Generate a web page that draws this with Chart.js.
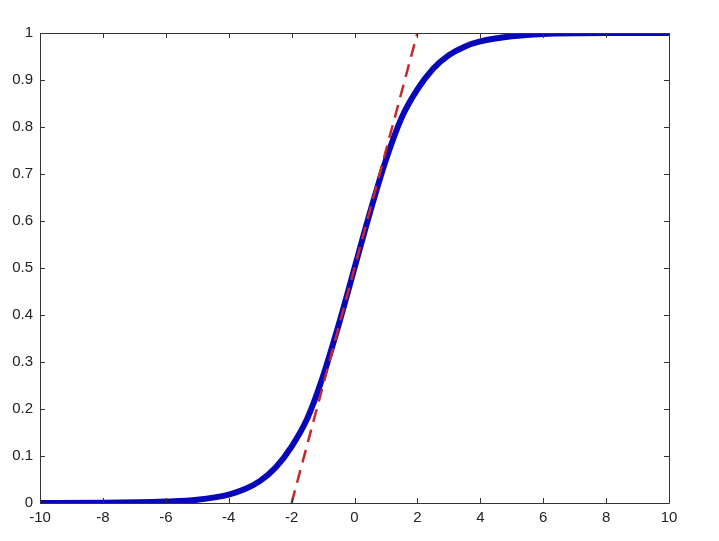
<!DOCTYPE html>
<html>
<head>
<meta charset="utf-8">
<script src="https://cdn.jsdelivr.net/npm/chart.js@4"></script>
<style>
  html, body { margin: 0; padding: 0; background: #fff; }
  #wrap { width: 719px; height: 541px; }
</style>
</head>
<body>
<div id="wrap"><canvas id="sigmoidChart" width="719" height="541"></canvas></div>
<script>
// values
const curveX = [-10, -8, -6, -5, -4, -3.5, -3, -2.5, -2, -1.5, -1, -0.5, 0, 0.5, 1, 1.5, 2, 2.5, 3, 3.5, 4, 5, 6, 8, 10];
const curveY = [0, 0.0003, 0.003, 0.007, 0.018, 0.029, 0.047, 0.076, 0.12, 0.18, 0.27, 0.38, 0.5, 0.62, 0.73, 0.82, 0.88, 0.924, 0.953, 0.971, 0.982, 0.993, 0.998, 1, 1];
const tangentX = [-2, 2];
const tangentY = [0, 1];
const xTicks = [-10, -8, -6, -4, -2, 0, 2, 4, 6, 8, 10];
const yTicks = [0, 0.1, 0.2, 0.3, 0.4, 0.5, 0.6, 0.7, 0.8, 0.9, 1];

const axisColor = '#333333';

// box round the plot with ticks pointing inward, like matlab
const boxPlugin = {
  id: 'box',
  afterDatasetsDraw(chart) {
    const ctx = chart.ctx;
    const a = chart.chartArea;
    const xs = chart.scales.x, ys = chart.scales.y;
    const len = 5;
    ctx.save();
    ctx.strokeStyle = axisColor;
    ctx.lineWidth = 1;
    ctx.beginPath();
    ctx.rect(a.left + 0.5, a.top + 0.5, a.right - a.left, a.bottom - a.top);
    xTicks.forEach(v => {
      const px = Math.round(xs.getPixelForValue(v)) + 0.5;
      ctx.moveTo(px, a.bottom); ctx.lineTo(px, a.bottom - len);
      ctx.moveTo(px, a.top); ctx.lineTo(px, a.top + len);
    });
    yTicks.forEach(v => {
      const py = Math.round(ys.getPixelForValue(v)) + 0.5;
      ctx.moveTo(a.left, py); ctx.lineTo(a.left + len, py);
      ctx.moveTo(a.right, py); ctx.lineTo(a.right - len, py);
    });
    ctx.stroke();
    ctx.restore();
  }
};

const ctx = document.getElementById('sigmoidChart').getContext('2d');
new Chart(ctx, {
  type: 'scatter',
  data: {
    datasets: [
      {
        label: 'sigmoid',
        data: curveX.map((x, i) => ({ x, y: curveY[i] })),
        showLine: true,
        borderColor: '#0808b8',
        borderWidth: 6,
        pointRadius: 0,
        cubicInterpolationMode: 'monotone',
        order: 2
      },
      {
        label: 'tangent',
        data: tangentX.map((x, i) => ({ x, y: tangentY[i] })),
        showLine: true,
        borderColor: '#c8282a',
        borderWidth: 2.5,
        borderDash: [13, 8],
        pointRadius: 0,
        order: 1
      }
    ]
  },
  options: {
    responsive: false,
    animation: false,
    layout: { padding: { top: 33, right: 50, left: 0, bottom: 0 } },
    plugins: {
      legend: { display: false },
      tooltip: { enabled: false }
    },
    scales: {
      x: {
        type: 'linear',
        min: -10,
        max: 10,
        afterBuildTicks: s => { s.ticks = xTicks.map(v => ({ value: v })); },
        afterFit: s => { s.height = 38; },
        grid: { drawOnChartArea: false, drawTicks: false },
        border: { display: false },
        ticks: {
          padding: 6,
          color: '#222',
          font: { family: 'Arial, "Liberation Sans", sans-serif', size: 15 },
          callback: v => String(v)
        }
      },
      y: {
        min: 0,
        max: 1,
        afterBuildTicks: s => { s.ticks = yTicks.map(v => ({ value: v })); },
        afterFit: s => { s.width = 40; },
        grid: { drawOnChartArea: false, drawTicks: false },
        border: { display: false },
        ticks: {
          padding: 7,
          color: '#222',
          font: { family: 'Arial, "Liberation Sans", sans-serif', size: 15 },
          callback: v => String(v)
        }
      }
    }
  },
  plugins: [boxPlugin]
});
</script>
</body>
</html>
